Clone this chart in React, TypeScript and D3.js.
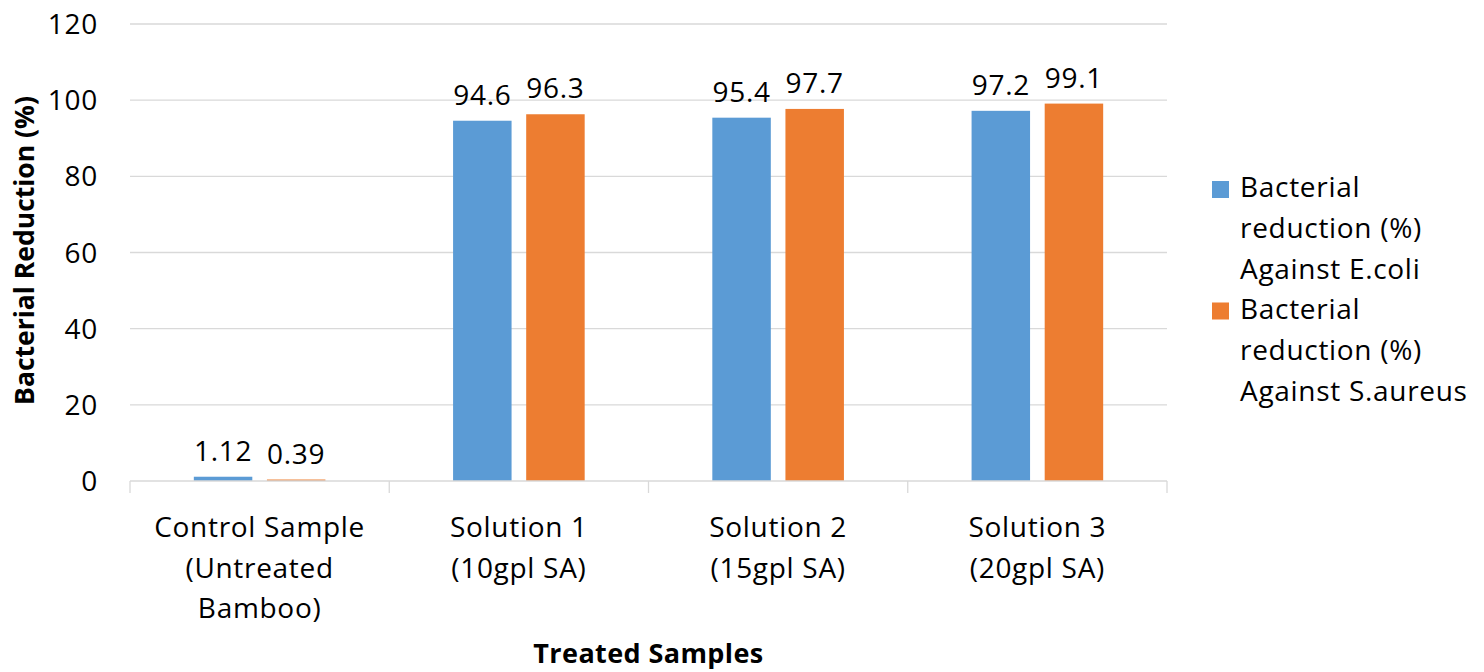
import React from "react";
import * as d3 from "d3";

// Category labels (multi-line) along the x axis
const categories: string[][] = [
  ["Control Sample", "(Untreated", "Bamboo)"],
  ["Solution 1", "(10gpl SA)"],
  ["Solution 2", "(15gpl SA)"],
  ["Solution 3", "(20gpl SA)"],
];

// Bacterial reduction (%) per sample
const ecoliValues = [1.12, 94.6, 95.4, 97.2];
const saureusValues = [0.39, 96.3, 97.7, 99.1];

const seriesKeys = ["ecoli", "saureus"];
const seriesLegend: string[][] = [
  ["Bacterial", "reduction (%)", "Against E.coli"],
  ["Bacterial", "reduction (%)", "Against S.aureus"],
];
const seriesColors = ["#5B9BD5", "#ED7D31"];

const yTicks = [0, 20, 40, 60, 80, 100, 120];

const W = 1484;
const H = 672;
const FONT = "'Open Sans', Lato, sans-serif";
const FS = 28;
const LS = 0.7;

export default function App() {
  const left = 130;
  const right = 1167;
  const top = 24;
  const bottom = 481;

  const x = d3
    .scaleBand<number>()
    .domain(categories.map((_, i) => i))
    .range([left, right]);
  const xs = d3
    .scaleBand<string>()
    .domain(seriesKeys)
    .range([0, x.bandwidth()])
    .paddingInner(0.2)
    .paddingOuter(0.873);
  const y = d3.scaleLinear().domain([0, 120]).range([bottom, top]);

  const series = [ecoliValues, saureusValues];
  const boundaries = [...categories.map((_, i) => x(i)!), right];

  return (
    <svg
      width={W}
      height={H}
      style={{ position: "absolute", left: 0, top: 0, background: "#fff" }}
      fontFamily={FONT}
    >
      {/* gridlines */}
      {yTicks.map((t) =>
        t === 0 ? null : (
          <line
            key={"g" + t}
            x1={left}
            x2={right}
            y1={y(t)}
            y2={y(t)}
            stroke="#d9d9d9"
            strokeWidth={1.3}
          />
        )
      )}
      {/* y tick labels */}
      {yTicks.map((t) => (
        <text
          key={"t" + t}
          x={98}
          y={y(t)}
          dy="0.36em"
          textAnchor="end"
          fontSize={FS}
          letterSpacing={LS}
          fill="#000"
        >
          {t}
        </text>
      ))}

      {/* bars */}
      {series.map((vals, si) =>
        vals.map((v, ci) => {
          const bx = x(ci)! + xs(seriesKeys[si])!;
          return (
            <rect
              key={`b${si}-${ci}`}
              x={bx}
              y={y(v)}
              width={xs.bandwidth()}
              height={bottom - y(v)}
              fill={seriesColors[si]}
            />
          );
        })
      )}
      {/* value labels */}
      {series.map((vals, si) =>
        vals.map((v, ci) => {
          const cx = x(ci)! + xs(seriesKeys[si])! + xs.bandwidth() / 2;
          return (
            <text
              key={`l${si}-${ci}`}
              x={cx}
              y={y(v) - 16}
              textAnchor="middle"
              fontSize={FS}
              letterSpacing={LS}
              fill="#000"
            >
              {v}
            </text>
          );
        })
      )}

      {/* x axis line and category dividers */}
      <line x1={left} x2={right} y1={bottom} y2={bottom} stroke="#d9d9d9" strokeWidth={1.3} />
      {boundaries.map((bx, i) => (
        <line key={"d" + i} x1={bx} x2={bx} y1={bottom} y2={bottom + 12} stroke="#d9d9d9" strokeWidth={1.3} />
      ))}

      {/* category labels */}
      {categories.map((lines, ci) => (
        <text
          key={"c" + ci}
          x={x(ci)! + x.bandwidth() / 2}
          y={537}
          textAnchor="middle"
          fontSize={FS}
          letterSpacing={LS}
          fill="#000"
        >
          {lines.map((ln, li) => (
            <tspan key={li} x={x(ci)! + x.bandwidth() / 2} dy={li === 0 ? 0 : 40.5}>
              {ln}
            </tspan>
          ))}
        </text>
      ))}

      {/* axis titles */}
      <text
        x={(left + right) / 2}
        y={663}
        textAnchor="middle"
        fontSize={27}
        letterSpacing={0.4}
        fontWeight="bold"
        fill="#000"
      >
        Treated Samples
      </text>
      <text
        transform={`translate(34, ${(88 + 413) / 2}) rotate(-90)`}
        textAnchor="middle"
        fontSize={26.5}
        fontWeight="bold"
        fill="#000"
      >
        Bacterial Reduction (%)
      </text>

      {/* legend */}
      {seriesLegend.map((lines, si) => {
        const base = 197 + si * 121.5;
        return (
          <g key={"lg" + si}>
            <rect x={1212} y={base - 16} width={17} height={17} fill={seriesColors[si]} />
            <text x={1240} y={base} fontSize={FS} letterSpacing={LS} fill="#000">
              {lines.map((ln, li) => (
                <tspan key={li} x={1240} dy={li === 0 ? 0 : 41}>
                  {ln}
                </tspan>
              ))}
            </text>
          </g>
        );
      })}
    </svg>
  );
}
